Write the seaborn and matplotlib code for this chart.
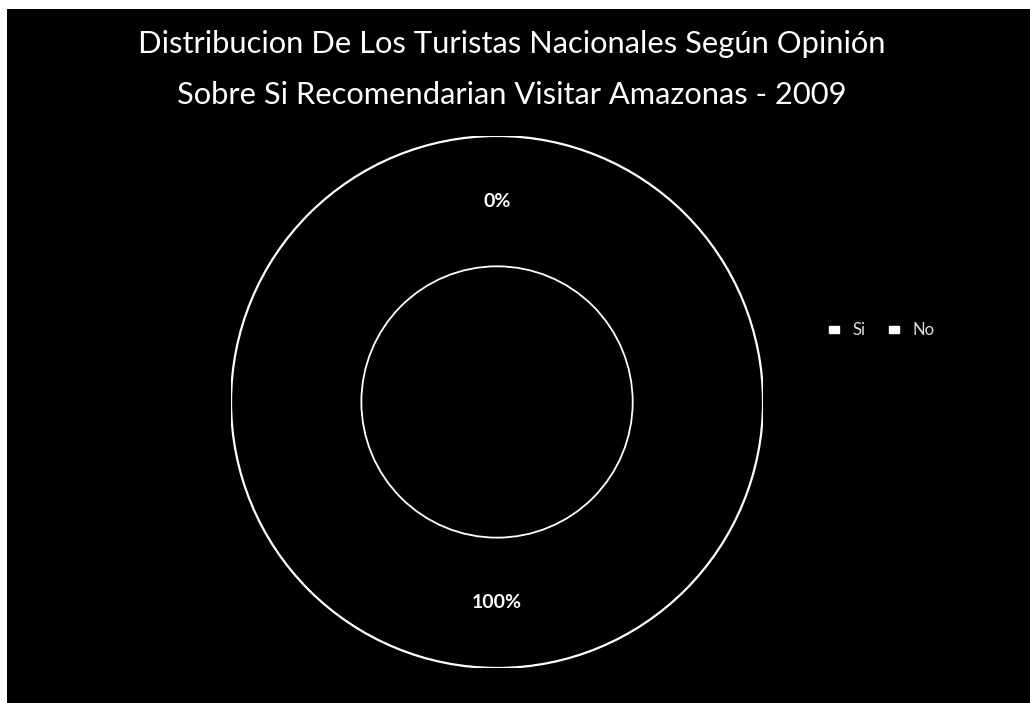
import matplotlib
matplotlib.use("Agg")
import matplotlib.pyplot as plt
from matplotlib.patches import Rectangle, Patch, Circle
import seaborn as sns

# datos de la encuesta
opciones = ["Si", "No"]
porcentajes = [100, 0]
titulo = ("Distribucion De Los Turistas Nacionales Según Opinión\n"
          "Sobre Si Recomendarian Visitar Amazonas - 2009")

sns.set_style("dark")
plt.rcParams["font.family"] = ["Lato", "DejaVu Sans"]

fig = plt.figure(figsize=(10.30, 7.03), dpi=100, facecolor="white")

# fondo negro con borde blanco arriba e izquierda (como el escaneo)
fig.patches.append(Rectangle((7 / 1030, 0), 1, 1 - 9 / 703,
                             transform=fig.transFigure, facecolor="black",
                             edgecolor="none", zorder=-5))

ax = fig.add_axes([0.2243, 0.0498, 0.5165, 0.7568])
ax.set_facecolor("none")
ax.set_zorder(2)

radio = 1.0
ancho = 0.49
wedges, textos, pcts = ax.pie(
    porcentajes, startangle=90, counterclock=False, radius=radio,
    colors=["black", "black"], autopct="%1.0f%%", pctdistance=0.755,
    wedgeprops=dict(width=ancho, edgecolor="none"),
    textprops=dict(color="white", fontsize=14, fontweight="bold"))
# solo los bordes circulares del anillo, en blanco
ax.add_patch(Circle((0, 0), radio, fill=False, ec="white", lw=1.6))
ax.add_patch(Circle((0, 0), radio - ancho, fill=False, ec="white", lw=1.3))
ax.set_xlim(-1, 1)
ax.set_ylim(-1, 1)
ax.set_aspect("equal")
ax.axis("off")

fig.text(0.497, 0.957, titulo, ha="center", va="top", color="white",
         fontsize=22.2, linespacing=2.0, zorder=3)

handles = [Patch(facecolor="white", edgecolor="white", label=o) for o in opciones]
leg = fig.legend(handles=handles, loc="center", bbox_to_anchor=(0.856, 0.53),
                 ncol=2, frameon=False, handlelength=0.6, handleheight=0.3,
                 handletextpad=0.8, columnspacing=1.4, labelcolor="#dddddd",
                 fontsize=12)
leg.set_zorder(3)

fig.savefig("out.png", dpi=100, facecolor=fig.get_facecolor())
